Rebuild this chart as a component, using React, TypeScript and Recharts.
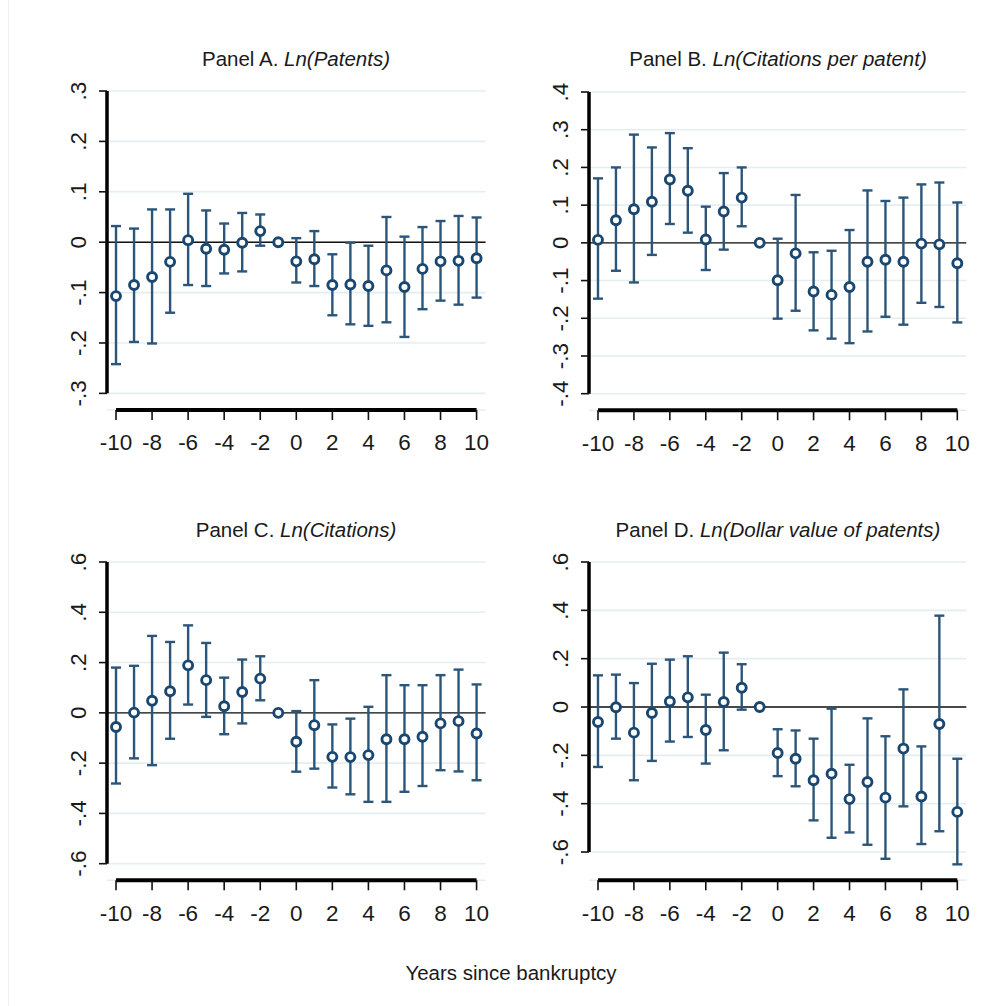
import React from "react";
import { ComposedChart, Scatter, ErrorBar, XAxis, YAxis, CartesianGrid, ReferenceLine } from "recharts";

// event time, years relative to the bankruptcy filing (-1 is the omitted year)
const years = [-10, -9, -8, -7, -6, -5, -4, -3, -2, -1, 0, 1, 2, 3, 4, 5, 6, 7, 8, 9, 10];

// Panel A: Ln(Patents)
const patentsCoef = [-0.107, -0.085, -0.069, -0.039, 0.004, -0.013, -0.015, -0.001, 0.022, 0, -0.038, -0.034, -0.085, -0.084, -0.087, -0.056, -0.089, -0.053, -0.038, -0.037, -0.032];
const patentsLo = [-0.242, -0.198, -0.201, -0.14, -0.085, -0.087, -0.062, -0.058, -0.007, 0, -0.08, -0.087, -0.145, -0.163, -0.166, -0.159, -0.188, -0.133, -0.116, -0.124, -0.11];
const patentsHi = [0.032, 0.027, 0.065, 0.065, 0.096, 0.063, 0.037, 0.058, 0.055, 0, 0.008, 0.022, -0.024, -0.001, -0.007, 0.05, 0.011, 0.03, 0.042, 0.052, 0.049];

// Panel B: Ln(Citations per patent)
const citesPerCoef = [0.008, 0.06, 0.089, 0.109, 0.168, 0.138, 0.009, 0.083, 0.12, 0, -0.099, -0.028, -0.129, -0.138, -0.117, -0.05, -0.045, -0.05, -0.002, -0.004, -0.054];
const citesPerLo = [-0.148, -0.074, -0.105, -0.032, 0.05, 0.027, -0.072, -0.018, 0.044, 0, -0.201, -0.18, -0.232, -0.254, -0.266, -0.235, -0.196, -0.217, -0.159, -0.17, -0.211];
const citesPerHi = [0.171, 0.2, 0.287, 0.253, 0.291, 0.251, 0.096, 0.185, 0.2, 0, 0.011, 0.127, -0.025, -0.021, 0.034, 0.139, 0.111, 0.12, 0.155, 0.16, 0.107];

// Panel C: Ln(Citations)
const citesCoef = [-0.056, 0.001, 0.048, 0.086, 0.189, 0.13, 0.026, 0.083, 0.136, 0, -0.115, -0.049, -0.175, -0.176, -0.168, -0.105, -0.105, -0.095, -0.042, -0.033, -0.082];
const citesLo = [-0.281, -0.181, -0.208, -0.103, 0.033, -0.016, -0.085, -0.042, 0.05, 0, -0.234, -0.222, -0.297, -0.324, -0.354, -0.354, -0.314, -0.291, -0.228, -0.233, -0.268];
const citesHi = [0.18, 0.187, 0.306, 0.282, 0.348, 0.278, 0.14, 0.212, 0.225, 0, 0.007, 0.13, -0.046, -0.023, 0.024, 0.15, 0.11, 0.11, 0.15, 0.172, 0.113];

// Panel D: Ln(Dollar value of patents)
const dollarCoef = [-0.062, -0.001, -0.106, -0.025, 0.023, 0.04, -0.095, 0.021, 0.08, 0, -0.19, -0.214, -0.303, -0.276, -0.381, -0.31, -0.375, -0.172, -0.37, -0.07, -0.434];
const dollarLo = [-0.248, -0.131, -0.303, -0.223, -0.143, -0.124, -0.234, -0.179, -0.011, 0, -0.286, -0.328, -0.469, -0.541, -0.519, -0.57, -0.628, -0.411, -0.567, -0.514, -0.651];
const dollarHi = [0.131, 0.134, 0.099, 0.179, 0.196, 0.21, 0.051, 0.225, 0.177, 0, -0.092, -0.097, -0.131, -0.007, -0.239, -0.047, -0.121, 0.073, -0.163, 0.378, -0.214];

const xTicks = [-10, -8, -6, -4, -2, 0, 2, 4, 6, 8, 10];
const yTicksA = [-0.3, -0.2, -0.1, 0, 0.1, 0.2, 0.3];
const yTicksB = [-0.4, -0.3, -0.2, -0.1, 0, 0.1, 0.2, 0.3, 0.4];
const yTicksCD = [-0.6, -0.4, -0.2, 0, 0.2, 0.4, 0.6];

const FONT = "'Liberation Sans', Arial, sans-serif";
const NAVY = "#1a476f";
const BAR = "#2b5579";
const TEXT = "#1a1a1a";

const fmtY = (v: number) => {
  if (Math.abs(v) < 1e-9) return "0";
  const s = Math.abs(v).toFixed(1).replace(/^0/, "");
  return v < 0 ? "-" + s : s;
};

const XTick = (props: any) => {
  const { x, y, payload } = props;
  return (
    <text x={x} y={y + 30.5} textAnchor="middle" fontFamily={FONT} fontSize={22.5} fill={TEXT}>
      {payload.value}
    </text>
  );
};

const YTick = (props: any) => {
  const { x, y, payload } = props;
  const bx = x - 13;
  return (
    <text x={bx} y={y} transform={`rotate(-90 ${bx} ${y})`} textAnchor="middle" fontFamily={FONT} fontSize={22.5} fill={TEXT}>
      {fmtY(payload.value)}
    </text>
  );
};

const Marker = (props: any) => {
  const { cx, cy } = props;
  if (cx == null || cy == null) return null;
  return <circle cx={cx} cy={cy} r={4.5} fill="#fff" stroke={NAVY} strokeWidth={2.9} />;
};

type PanelProps = {
  coef: number[];
  lo: number[];
  hi: number[];
  yTicks: number[];
  yLo: number;
  plotLeft: number;
  plotRight: number;
  plotTop: number;
  xLineY: number;
};

function Panel({ coef, lo, hi, yTicks, yLo, plotLeft, plotRight, plotTop, xLineY }: PanelProps) {
  const rows = years.map((year, i) => ({
    year,
    coef: coef[i],
    err: [coef[i] - lo[i], hi[i] - coef[i]],
  }));
  const yTop = yTicks[yTicks.length - 1];
  const width = plotRight - plotLeft + 80 + 20;
  const height = xLineY - plotTop + 20 + 60;

  return (
    <div style={{ position: "absolute", left: plotLeft - 80, top: plotTop - 20 }}>
      <ComposedChart width={width} height={height} data={rows} margin={{ top: 20, right: 20, bottom: 0, left: 0 }}>
        <CartesianGrid horizontal vertical={false} stroke="#e4eef1" strokeWidth={1.6} />
        <XAxis
          type="number"
          dataKey="year"
          domain={[-10.5, 10.5]}
          ticks={xTicks}
          allowDataOverflow
          interval={0}
          axisLine={false}
          tickLine={{ stroke: "#111", strokeWidth: 1.6 }}
          tickSize={10}
          tickMargin={0}
          height={60}
          tick={<XTick />}
        />
        <YAxis
          type="number"
          domain={[yLo, yTop]}
          ticks={yTicks}
          allowDataOverflow
          interval={0}
          axisLine={false}
          tickLine={{ stroke: "#111", strokeWidth: 1.6 }}
          tickSize={8}
          tickMargin={0}
          width={80}
          tick={<YTick />}
        />
        <ReferenceLine y={0} stroke="#111" strokeWidth={1.4} />
        <ReferenceLine
          segment={[{ x: -10, y: yLo }, { x: 10, y: yLo }]}
          stroke="#000"
          strokeWidth={4}
          ifOverflow="visible"
        />
        <ReferenceLine
          segment={[{ x: -10.5, y: yTicks[0] }, { x: -10.5, y: yTop }]}
          stroke="#000"
          strokeWidth={3.5}
          ifOverflow="visible"
        />
        <Scatter dataKey="coef" shape={<Marker />} isAnimationActive={false}>
          <ErrorBar dataKey="err" direction="y" width={5} stroke={BAR} strokeWidth={2.4} isAnimationActive={false} />
        </Scatter>
      </ComposedChart>
    </div>
  );
}

export default function App() {
  return (
    <div style={{ position: "absolute", left: 0, top: 0, width: 1002, height: 1006, background: "#fff", overflow: "hidden" }}>
      <div style={{ position: "absolute", left: 8, top: 0, width: 1, height: 1006, background: "#f1f1f1" }} />
      <Panel coef={patentsCoef} lo={patentsLo} hi={patentsHi} yTicks={yTicksA} yLo={-0.333} plotLeft={107} plotRight={485.6} plotTop={91} xLineY={410} />
      <Panel coef={citesPerCoef} lo={citesPerLo} hi={citesPerHi} yTicks={yTicksB} yLo={-0.444} plotLeft={589} plotRight={966.3} plotTop={91.7} xLineY={410} />
      <Panel coef={citesCoef} lo={citesLo} hi={citesHi} yTicks={yTicksCD} yLo={-0.666} plotLeft={107} plotRight={485.6} plotTop={561.7} xLineY={880} />
      <Panel coef={dollarCoef} lo={dollarLo} hi={dollarHi} yTicks={yTicksCD} yLo={-0.717} plotLeft={589} plotRight={966.3} plotTop={561.7} xLineY={880} />
      <svg width={1002} height={1006} style={{ position: "absolute", left: 0, top: 0, pointerEvents: "none" }}>
        <g fontFamily={FONT} fontSize={20.5} fill={TEXT}>
          <text x={296} y={66} textAnchor="middle">
            Panel A. <tspan fontStyle="italic">Ln(Patents)</tspan>
          </text>
          <text x={778} y={66} textAnchor="middle">
            Panel B. <tspan fontStyle="italic">Ln(Citations per patent)</tspan>
          </text>
          <text x={296} y={536.5} textAnchor="middle">
            Panel C. <tspan fontStyle="italic">Ln(Citations)</tspan>
          </text>
          <text x={778} y={536.5} textAnchor="middle">
            Panel D. <tspan fontStyle="italic">Ln(Dollar value of patents)</tspan>
          </text>
          <text x={511} y={980} textAnchor="middle">
            Years since bankruptcy
          </text>
        </g>
      </svg>
    </div>
  );
}
